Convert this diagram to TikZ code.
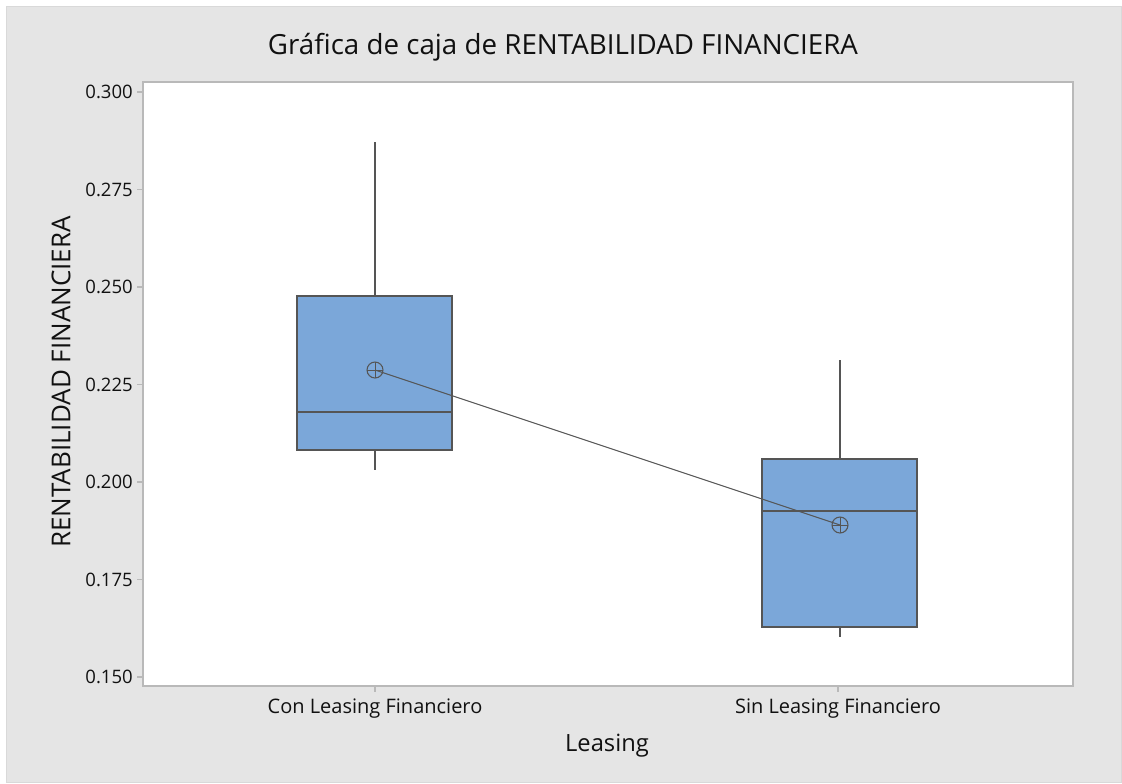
\documentclass[tikz,border=0pt]{standalone}
\usepackage{fontspec}
\setmainfont{Open Sans}
\definecolor{bgg}{HTML}{E5E5E5}
\definecolor{frameg}{HTML}{B9B9B9}
\definecolor{lineg}{HTML}{555555}
\definecolor{boxb}{HTML}{7BA7D9}
\definecolor{txt}{HTML}{111111}
\begin{document}
\begin{tikzpicture}[x=0.75pt,y=-0.75pt,
  frm/.style={draw=frameg,line width=1.1pt},
  tck/.style={draw=frameg,line width=0.9pt},
  ylab/.style={anchor=east,font=\fontsize{13.9}{16}\selectfont,text=txt,inner sep=0pt},
  xlab/.style={anchor=center,font=\fontsize{15}{18}\selectfont,text=txt,inner sep=0pt},
  bx/.style={draw=lineg,fill=boxb,line width=0.9pt},
  wsk/.style={draw=lineg,line width=0.9pt},
  meanmark/.style={circle,draw=lineg,line width=0.8pt,minimum size=12pt,inner sep=0pt,
    path picture={\draw[lineg,line width=0.7pt] (path picture bounding box.north) -- (path picture bounding box.south)
      (path picture bounding box.west) -- (path picture bounding box.east);}},
  conn/.style={draw=lineg,line width=0.8pt}]
\useasboundingbox (0,0) rectangle (1122,783);
\fill[white] (0,0) rectangle (1122,783);
\draw[fill=bgg,draw=black!15,line width=0.6pt] (6,6) rectangle (1121,782);
% plot area
\draw[frm,fill=white] (143,82) rectangle (1073,686);
% title
\node[font=\fontsize{20.8}{24}\selectfont,text=txt] (title) at (563,47) {Gráfica de caja de RENTABILIDAD FINANCIERA};
% y ticks
\foreach \v/\yy in {0.300/92,0.275/189.5,0.250/287,0.225/384.5,0.200/482,0.175/579.5,0.150/677}{
  \draw[tck] (137,\yy) -- (143,\yy);
  \node[ylab] at (133,\yy) {\v};
}
% x ticks
\draw[tck] (375,686) -- (375,692);
\draw[tck] (838,686) -- (838,692);
\node[xlab] (c1) at (375,709) {Con Leasing Financiero};
\node[xlab] (c2) at (838,709) {Sin Leasing Financiero};
\node[font=\fontsize{17.8}{21}\selectfont,text=txt] (xt) at (607,746) {Leasing};
\node[font=\fontsize{19.5}{22}\selectfont,text=txt,rotate=90] (yt) at (61,382) {RENTABILIDAD FINANCIERA};
% box 1
\draw[wsk] (375,142) -- (375,296);
\draw[wsk] (375,450) -- (375,470);
\draw[bx] (297,296) rectangle (452,450);
\draw[wsk] (297,412) -- (452,412);
% box 2
\draw[wsk] (840,360) -- (840,459);
\draw[wsk] (840,627) -- (840,637);
\draw[bx] (762,459) rectangle (917,627);
\draw[wsk] (762,511) -- (917,511);
% means
\node[meanmark] (m1) at (375,370) {};
\node[meanmark] (m2) at (840,525) {};
\draw[conn] (m1.center) -- (m2.center);
\end{tikzpicture}
\end{document}
